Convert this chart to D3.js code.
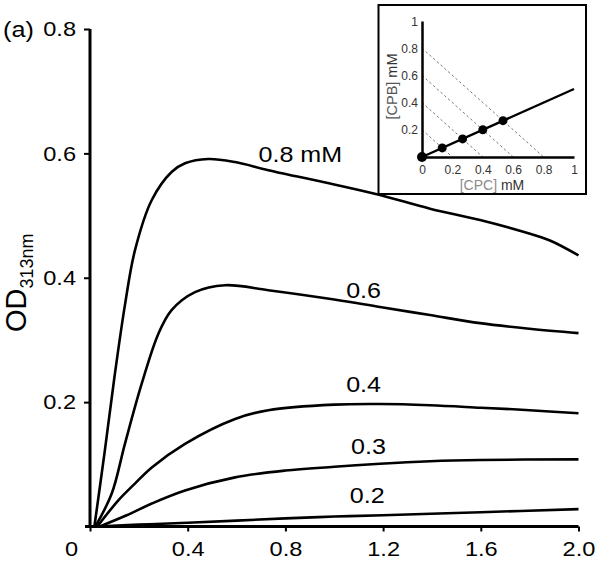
<!DOCTYPE html>
<html>
<head>
<meta charset="utf-8">
<script src="https://cdn.jsdelivr.net/npm/d3@7/dist/d3.min.js"></script>
<style>
  html, body { margin: 0; padding: 0; background: #fff; }
  svg { display: block; font-family: "Liberation Sans", Arial, sans-serif; }
</style>
</head>
<body>
<svg id="chart" width="601" height="564"></svg>
<script>
// ---------- data ----------
// main panel: time (x) vs OD313nm (y), one array of [x, OD] per concentration
const xTicks = [0, 0.4, 0.8, 1.2, 1.6, 2.0];
const xTickLabels = ["0", "0.4", "0.8", "1.2", "1.6", "2.0"];
const yTicks = [0.2, 0.4, 0.6, 0.8];
const yTickLabels = ["0.2", "0.4", "0.6", "0.8"];

const series08 = [[0.018,0],[0.06,0.12],[0.1,0.24],[0.143,0.356],[0.184,0.444],[0.253,0.525],[0.334,0.570],[0.389,0.584],[0.484,0.591],[0.594,0.586],[0.73,0.573],[1.0,0.550],[1.187,0.533],[1.392,0.511],[1.597,0.493],[1.774,0.474],[1.883,0.460],[2.0,0.436]];
const series06 = [[0.022,0],[0.089,0.053],[0.143,0.133],[0.212,0.230],[0.28,0.310],[0.334,0.348],[0.43,0.377],[0.553,0.388],[0.73,0.380],[1.0,0.365],[1.187,0.353],[1.392,0.340],[1.597,0.327],[1.8,0.318],[2.0,0.311]];
const series04 = [[0.03,0],[0.116,0.042],[0.184,0.069],[0.253,0.095],[0.389,0.133],[0.594,0.173],[0.73,0.187],[1.0,0.196],[1.187,0.197],[1.392,0.195],[1.6,0.191],[1.8,0.187],[2.0,0.182]];
const series03 = [[0.04,0],[0.15,0.018],[0.253,0.037],[0.389,0.058],[0.594,0.079],[0.8,0.090],[1.0,0.096],[1.187,0.101],[1.392,0.105],[1.6,0.107],[2.0,0.108]];
const series02 = [[0.03,0],[0.2,0.003],[0.4,0.006],[0.8,0.013],[1.0,0.016],[1.2,0.018],[1.6,0.023],[2.0,0.028]];
const seriesList = [series08, series06, series04, series03, series02];
const seriesLabels = ["0.8 mM", "0.6", "0.4", "0.3", "0.2"];
// label anchor positions in data units [x, OD]
const labelPos = [[0.69, 0.586], [1.12, 0.368], [1.12, 0.217], [1.14, 0.117], [1.135, 0.037]];
const labelAnchor = ["start", "middle", "middle", "middle", "middle"];

// inset: [CPC] vs [CPB]
const insetTicks = [0, 0.2, 0.4, 0.6, 0.8, 1];
const insetXLabels = ["0", "0.2", "0.4", "0.6", "0.8", "1"];
const insetYTicks = [0.2, 0.4, 0.6, 0.8, 1];
const insetYLabels = ["0.2", "0.4", "0.6", "0.8", "1"];
const insetCPC = [0, 0.133, 0.267, 0.4, 0.533];
const insetCPB = [0, 0.067, 0.133, 0.2, 0.267];
const insetLine = [[0, 0], [1, 0.5]];
const totalConc = [0.2, 0.4, 0.6, 0.8];

// ---------- drawing ----------
const svg = d3.select("#chart");
const sx = 1.18; // horizontal text stretch of the reference

const x = d3.scaleLinear().domain([0, 2]).range([90, 578.5]);
const y = d3.scaleLinear().domain([0, 0.8]).range([526.5, 29]);

// curves
const line = d3.line().x(d => x(d[0])).y(d => y(d[1])).curve(d3.curveCatmullRom.alpha(0.5));
svg.append("g").selectAll("path").data(seriesList).join("path")
  .attr("d", line).attr("fill", "none").attr("stroke", "#000")
  .attr("stroke-width", 2.6).attr("stroke-linejoin", "round");

// series labels
svg.append("g").selectAll("text").data(seriesLabels).join("text")
  .attr("transform", (d, i) => `translate(${x(labelPos[i][0])},${y(labelPos[i][1])}) scale(1.14,1)`)
  .attr("text-anchor", (d, i) => labelAnchor[i])
  .attr("font-size", 22).attr("fill", "#000").text(d => d);

// x axis
const gx = svg.append("g").attr("transform", `translate(0,${y(0)})`)
  .call(d3.axisBottom(x).tickValues(xTicks).tickFormat((d, i) => xTickLabels[i]).tickSize(5).tickSizeOuter(0));
gx.select(".domain").attr("d", `M${x(0) - 5},0H${x(2)}`).attr("stroke-width", 3);
gx.selectAll(".tick line").attr("stroke-width", 2);
gx.selectAll(".tick text")
  .attr("y", 29.5).attr("dy", 0)
  .attr("x", (d, i) => i === 0 ? -19 / sx : 0)
  .attr("transform", `scale(${sx},1)`)
  .attr("font-size", 20).attr("font-family", "Liberation Sans, Arial, sans-serif").attr("fill", "#000");

// y axis
const gy = svg.append("g").attr("transform", `translate(${x(0)},0)`)
  .call(d3.axisLeft(y).tickValues(yTicks).tickFormat((d, i) => yTickLabels[i]).tickSize(6).tickSizeOuter(0));
gy.select(".domain").attr("d", `M0,${y(0)}V${y(0.8)}`).attr("stroke-width", 3);
gy.selectAll(".tick line").attr("stroke-width", 2);
gy.selectAll(".tick text")
  .attr("x", -14 / sx).attr("dy", "0.34em")
  .attr("transform", `scale(${sx},1)`)
  .attr("font-size", 20).attr("font-family", "Liberation Sans, Arial, sans-serif").attr("fill", "#000");

// panel tag
svg.append("text").attr("transform", "translate(3,37) scale(1.12,1)")
  .attr("font-size", 22.5).text("(a)");

// y axis title
const yt = svg.append("text").attr("transform", "translate(26,332) rotate(-90)");
yt.append("tspan").attr("font-size", 29).text("OD");
yt.append("tspan").attr("font-size", 18).attr("dy", 7).text("313nm");

// ---------- inset ----------
svg.append("rect").attr("x", 378.5).attr("y", 5).attr("width", 207.5).attr("height", 189)
  .attr("fill", "#fff").attr("stroke", "#000").attr("stroke-width", 2);

const ix = d3.scaleLinear().domain([0, 1]).range([422, 574]);
const iy = d3.scaleLinear().domain([0, 1]).range([157, 21]);

// dashed total-concentration lines
svg.append("g").selectAll("line").data(totalConc).join("line")
  .attr("x1", ix(0)).attr("y1", d => iy(d)).attr("x2", d => ix(d)).attr("y2", iy(0))
  .attr("stroke", "#7a7a7a").attr("stroke-width", 1).attr("stroke-dasharray", "2.5,2.5");

// inset axes
const gix = svg.append("g").attr("transform", `translate(0,${iy(0)})`)
  .call(d3.axisBottom(ix).tickValues(insetTicks).tickFormat((d, i) => insetXLabels[i]).tickSize(0).tickSizeOuter(0));
gix.select(".domain").attr("stroke-width", 2.5);
gix.selectAll(".tick text").attr("y", 16.5).attr("dy", 0)
  .attr("font-size", 12).attr("font-family", "Liberation Sans, Arial, sans-serif").attr("fill", "#333");

const giy = svg.append("g").attr("transform", `translate(${ix(0)},0)`)
  .call(d3.axisLeft(iy).tickValues(insetYTicks).tickFormat((d, i) => insetYLabels[i]).tickSize(0).tickSizeOuter(0));
giy.select(".domain").attr("stroke-width", 2.5);
giy.selectAll(".tick text").attr("x", -4).attr("dy", "0.34em")
  .attr("font-size", 12).attr("font-family", "Liberation Sans, Arial, sans-serif").attr("fill", "#333");

// ratio line and points
svg.append("path").datum(insetLine)
  .attr("d", d3.line().x(d => ix(d[0])).y(d => iy(d[1])))
  .attr("stroke", "#000").attr("stroke-width", 2.4).attr("fill", "none");
svg.append("g").selectAll("circle").data(insetCPC).join("circle")
  .attr("cx", d => ix(d)).attr("cy", (d, i) => iy(insetCPB[i]))
  .attr("r", (d, i) => i === 0 ? 5 : 4.5).attr("fill", "#000");

// inset axis titles
const ixt = svg.append("text").attr("x", 492).attr("y", 190).attr("text-anchor", "middle").attr("font-size", 14);
ixt.append("tspan").attr("fill", "#8a8a8a").text("[CPC]");
ixt.append("tspan").attr("fill", "#333").text(" mM");
const iyt = svg.append("text").attr("transform", "translate(397,86.5) rotate(-90)").attr("text-anchor", "middle").attr("font-size", 14.5);
iyt.append("tspan").attr("fill", "#555").text("[CPB]");
iyt.append("tspan").attr("fill", "#333").text(" mM");
</script>
</body>
</html>
